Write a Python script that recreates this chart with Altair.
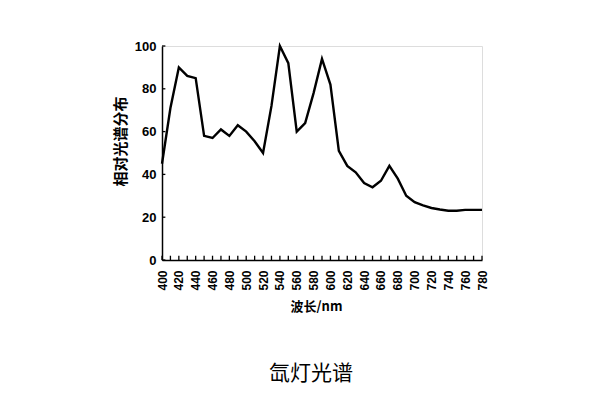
import altair as alt
import pandas as pd

wavelength = [400, 410, 420, 430, 440, 450, 460, 470, 480, 490, 500, 510, 520, 530,
              540, 550, 560, 570, 580, 590, 600, 610, 620, 630, 640, 650, 660, 670,
              680, 690, 700, 710, 720, 730, 740, 750, 760, 770, 780]
intensity = [45, 71, 90, 86, 85, 58, 57, 61, 58, 63, 60, 55.5, 50, 72,
             100, 92, 60, 64, 78, 94, 82, 51, 44, 41, 36, 34, 37, 44,
             38, 30, 27, 25.5, 24.3, 23.6, 23, 23, 23.4, 23.4, 23.4]
x_ticks = list(range(400, 781, 20))
x_minor = list(range(400, 781, 10))
y_ticks = [0, 20, 40, 60, 80, 100]

df = pd.DataFrame({"wl": wavelength, "val": intensity})
tick_x = pd.DataFrame({"tx": x_minor, "y0": [0] * len(x_minor), "y1": [2.0] * len(x_minor)})
tick_y = pd.DataFrame({"ty": y_ticks, "x0": [400] * len(y_ticks), "x1": [404] * len(y_ticks)})

lab_font = "Liberation Sans"
cjk = "Noto Sans CJK SC"

xscale = alt.Scale(domain=[400, 780], nice=False, zero=False)
yscale = alt.Scale(domain=[0, 100], nice=False)

xaxis = alt.Axis(title="波长/nm", values=x_ticks, labelAngle=270,
                 labelOverlap=False, labelBound=False,
                 grid=False, domainColor="black", domainWidth=1.5,
                 ticks=False,
                 labelFont=lab_font, labelFontWeight="bold", labelFontSize=12,
                 labelColor="black", labelPadding=10,
                 titleFont=cjk, titleFontWeight="bold", titleFontSize=13,
                 titleColor="black", titlePadding=10, titleX=154)
yaxis = alt.Axis(title="相对光谱分布", values=y_ticks, grid=False,
                 labelOverlap=False,
                 domainColor="black", domainWidth=1.5, ticks=False,
                 labelFont=lab_font, labelFontWeight="bold", labelFontSize=13,
                 labelColor="black", labelPadding=6,
                 titleFont=cjk, titleFontWeight="bold", titleFontSize=15,
                 titleColor="black", titlePadding=6, titleY=95)

line = alt.Chart(df).mark_line(color="black", strokeWidth=2.4).encode(
    x=alt.X("wl:Q", scale=xscale, axis=xaxis),
    y=alt.Y("val:Q", scale=yscale, axis=yaxis),
)

xt = alt.Chart(tick_x).mark_rule(color="black", strokeWidth=1.3).encode(
    x=alt.X("tx:Q", scale=xscale, axis=xaxis),
    y=alt.Y("y0:Q", scale=yscale, axis=yaxis),
    y2=alt.Y2("y1:Q"),
)
yt = alt.Chart(tick_y).mark_rule(color="black", strokeWidth=1.3).encode(
    y=alt.Y("ty:Q", scale=yscale, axis=yaxis),
    x=alt.X("x0:Q", scale=xscale, axis=xaxis),
    x2=alt.X2("x1:Q"),
)

chart = alt.layer(line, xt, yt).properties(
    width=320, height=214,
    title=alt.Title("氙灯光谱", orient="bottom", anchor="middle", font=cjk,
                    fontSize=21, fontWeight="normal", color="black", offset=50, dx=-11),
    autosize="none",
    padding={"left": 154, "top": 38, "right": 110, "bottom": 130},
).configure_view(stroke=None).configure(background="white")

chart.save("out.html", embed_options={"renderer": "svg", "actions": False})
